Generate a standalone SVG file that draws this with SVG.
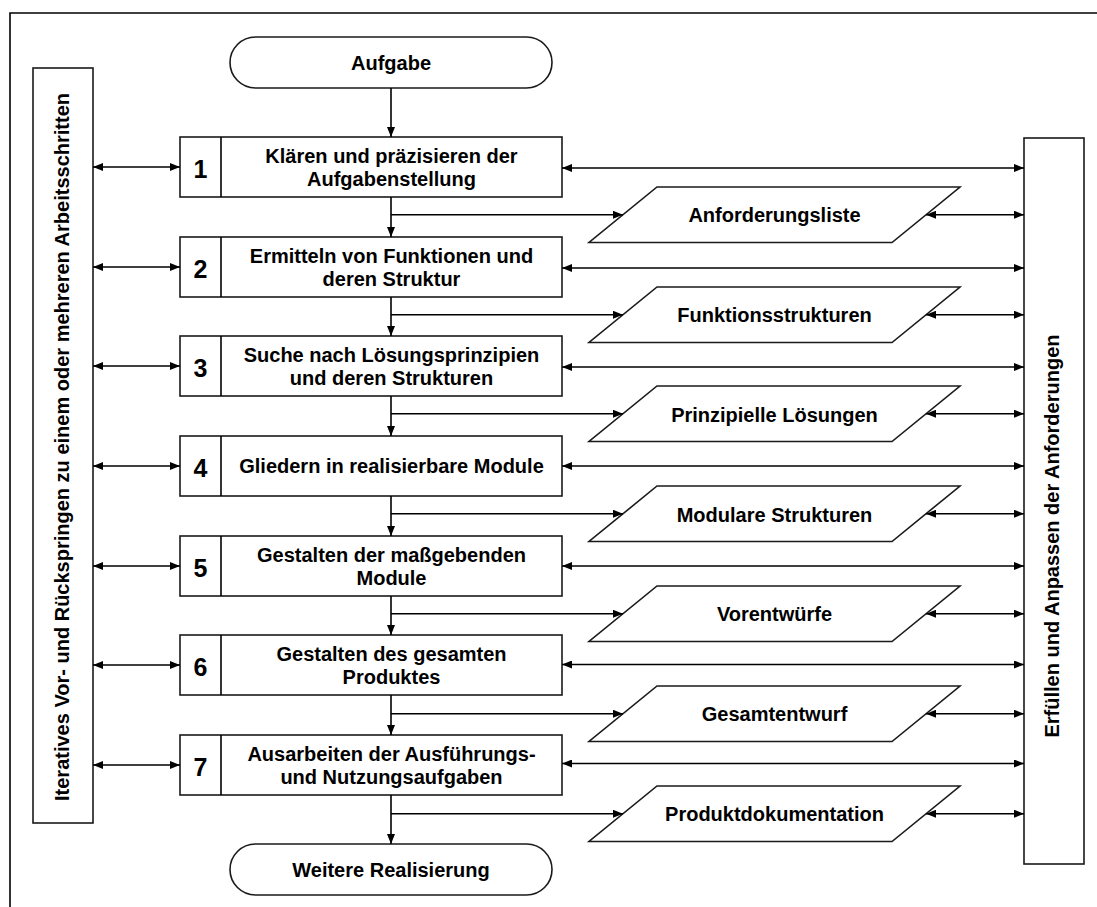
<svg xmlns="http://www.w3.org/2000/svg" width="1097" height="907" viewBox="0 0 1097 907">
<style>
.sh{fill:#fff;stroke:#1a1a1a;stroke-width:1.6}
.ln{fill:none;stroke:#000;stroke-width:1.6}
.t{font-family:"Liberation Sans",Arial,sans-serif;font-weight:bold;font-size:20px;fill:#000;text-anchor:middle}
.n{font-size:25px}
</style>
<defs>
<marker id="ah" markerUnits="userSpaceOnUse" markerWidth="10" markerHeight="8" refX="10" refY="4" orient="auto-start-reverse">
<path d="M0,0 L10,4 L0,8 z" fill="#000"/>
</marker>
</defs>
<rect x="0" y="0" width="1097" height="907" fill="#fff"/>
<path d="M10,907 L10,13 L1097,13" class="ln"/>

<g id="side-left">
<rect class="sh" x="33" y="68" width="60" height="755"/>
<text class="t" transform="translate(69,447) rotate(-90)">Iteratives Vor- und Rückspringen zu einem oder mehreren Arbeitsschritten</text>
</g>
<g id="side-right">
<rect class="sh" x="1024" y="138" width="60" height="726"/>
<text class="t" transform="translate(1059,536) rotate(-90)">Erfüllen und Anpassen der Anforderungen</text>
</g>

<g id="start">
<rect class="sh" x="230" y="37" width="322" height="51" rx="25.5" ry="25.5"/>
<text class="t" x="391" y="70">Aufgabe</text>
</g>
<g id="end">
<rect class="sh" x="230" y="844" width="322" height="51" rx="25.5" ry="25.5"/>
<text class="t" x="391" y="877">Weitere Realisierung</text>
</g>

<g id="step1">
<rect class="sh" x="180" y="137" width="382" height="60"/>
<line class="ln" x1="221" y1="137" x2="221" y2="197"/>
<text class="t n" x="200.5" y="178">1</text>
<text class="t" x="391.5" y="162.5">Klären und präzisieren der</text>
<text class="t" x="391.5" y="185.5">Aufgabenstellung</text>
</g>
<g id="step2">
<rect class="sh" x="180" y="237" width="382" height="60"/>
<line class="ln" x1="221" y1="237" x2="221" y2="297"/>
<text class="t n" x="200.5" y="278">2</text>
<text class="t" x="391.5" y="262.5">Ermitteln von Funktionen und</text>
<text class="t" x="391.5" y="285.5">deren Struktur</text>
</g>
<g id="step3">
<rect class="sh" x="180" y="336" width="382" height="60"/>
<line class="ln" x1="221" y1="336" x2="221" y2="396"/>
<text class="t n" x="200.5" y="377">3</text>
<text class="t" x="391.5" y="361.5">Suche nach Lösungsprinzipien</text>
<text class="t" x="391.5" y="384.5">und deren Strukturen</text>
</g>
<g id="step4">
<rect class="sh" x="180" y="436" width="382" height="60"/>
<line class="ln" x1="221" y1="436" x2="221" y2="496"/>
<text class="t n" x="200.5" y="477">4</text>
<text class="t" x="391.5" y="473">Gliedern in realisierbare Module</text>
</g>
<g id="step5">
<rect class="sh" x="180" y="536" width="382" height="60"/>
<line class="ln" x1="221" y1="536" x2="221" y2="596"/>
<text class="t n" x="200.5" y="577">5</text>
<text class="t" x="391.5" y="561.5">Gestalten der maßgebenden</text>
<text class="t" x="391.5" y="584.5">Module</text>
</g>
<g id="step6">
<rect class="sh" x="180" y="635" width="382" height="60"/>
<line class="ln" x1="221" y1="635" x2="221" y2="695"/>
<text class="t n" x="200.5" y="676">6</text>
<text class="t" x="391.5" y="660.5">Gestalten des gesamten</text>
<text class="t" x="391.5" y="683.5">Produktes</text>
</g>
<g id="step7">
<rect class="sh" x="180" y="735" width="382" height="60"/>
<line class="ln" x1="221" y1="735" x2="221" y2="795"/>
<text class="t n" x="200.5" y="776">7</text>
<text class="t" x="391.5" y="760.5">Ausarbeiten der Ausführungs-</text>
<text class="t" x="391.5" y="783.5">und Nutzungsaufgaben</text>
</g>

<g id="out1">
<polygon class="sh" points="657,187 960,187 892,242.5 589,242.5"/>
<text class="t" x="774.5" y="222">Anforderungsliste</text>
</g>
<g id="out2">
<polygon class="sh" points="657,287 960,287 892,342.5 589,342.5"/>
<text class="t" x="774.5" y="322">Funktionsstrukturen</text>
</g>
<g id="out3">
<polygon class="sh" points="657,386 960,386 892,441.5 589,441.5"/>
<text class="t" x="774.5" y="421.5">Prinzipielle Lösungen</text>
</g>
<g id="out4">
<polygon class="sh" points="657,486 960,486 892,541.5 589,541.5"/>
<text class="t" x="774.5" y="521.5">Modulare Strukturen</text>
</g>
<g id="out5">
<polygon class="sh" points="657,586 960,586 892,641.5 589,641.5"/>
<text class="t" x="774.5" y="621">Vorentwürfe</text>
</g>
<g id="out6">
<polygon class="sh" points="657,686 960,686 892,741.5 589,741.5"/>
<text class="t" x="774.5" y="721">Gesamtentwurf</text>
</g>
<g id="out7">
<polygon class="sh" points="657,786 960,786 892,841.5 589,841.5"/>
<text class="t" x="774.5" y="821">Produktdokumentation</text>
</g>

<g id="connectors" class="ln">
<line x1="391" y1="88" x2="391" y2="137" marker-end="url(#ah)"/>
<line x1="391" y1="197" x2="391" y2="237" marker-end="url(#ah)"/>
<line x1="391" y1="297" x2="391" y2="336" marker-end="url(#ah)"/>
<line x1="391" y1="396" x2="391" y2="436" marker-end="url(#ah)"/>
<line x1="391" y1="496" x2="391" y2="536" marker-end="url(#ah)"/>
<line x1="391" y1="596" x2="391" y2="635" marker-end="url(#ah)"/>
<line x1="391" y1="695" x2="391" y2="735" marker-end="url(#ah)"/>
<line x1="391" y1="795" x2="391" y2="844" marker-end="url(#ah)"/>

<line x1="391" y1="214.75" x2="623" y2="214.75" marker-end="url(#ah)"/>
<line x1="391" y1="314.75" x2="623" y2="314.75" marker-end="url(#ah)"/>
<line x1="391" y1="413.75" x2="623" y2="413.75" marker-end="url(#ah)"/>
<line x1="391" y1="513.75" x2="623" y2="513.75" marker-end="url(#ah)"/>
<line x1="391" y1="613.75" x2="623" y2="613.75" marker-end="url(#ah)"/>
<line x1="391" y1="713.75" x2="623" y2="713.75" marker-end="url(#ah)"/>
<line x1="391" y1="813.75" x2="623" y2="813.75" marker-end="url(#ah)"/>

<line x1="93" y1="167" x2="180" y2="167" marker-start="url(#ah)" marker-end="url(#ah)"/>
<line x1="93" y1="267" x2="180" y2="267" marker-start="url(#ah)" marker-end="url(#ah)"/>
<line x1="93" y1="366" x2="180" y2="366" marker-start="url(#ah)" marker-end="url(#ah)"/>
<line x1="93" y1="466" x2="180" y2="466" marker-start="url(#ah)" marker-end="url(#ah)"/>
<line x1="93" y1="566" x2="180" y2="566" marker-start="url(#ah)" marker-end="url(#ah)"/>
<line x1="93" y1="665" x2="180" y2="665" marker-start="url(#ah)" marker-end="url(#ah)"/>
<line x1="93" y1="765" x2="180" y2="765" marker-start="url(#ah)" marker-end="url(#ah)"/>

<line x1="562" y1="168" x2="1024" y2="168" marker-start="url(#ah)" marker-end="url(#ah)"/>
<line x1="562" y1="268" x2="1024" y2="268" marker-start="url(#ah)" marker-end="url(#ah)"/>
<line x1="562" y1="367" x2="1024" y2="367" marker-start="url(#ah)" marker-end="url(#ah)"/>
<line x1="562" y1="466" x2="1024" y2="466" marker-start="url(#ah)" marker-end="url(#ah)"/>
<line x1="562" y1="566" x2="1024" y2="566" marker-start="url(#ah)" marker-end="url(#ah)"/>
<line x1="562" y1="664.5" x2="1024" y2="664.5" marker-start="url(#ah)" marker-end="url(#ah)"/>
<line x1="562" y1="763.5" x2="1024" y2="763.5" marker-start="url(#ah)" marker-end="url(#ah)"/>

<line x1="926" y1="214.75" x2="1024" y2="214.75" marker-start="url(#ah)" marker-end="url(#ah)"/>
<line x1="926" y1="314.75" x2="1024" y2="314.75" marker-start="url(#ah)" marker-end="url(#ah)"/>
<line x1="926" y1="413.75" x2="1024" y2="413.75" marker-start="url(#ah)" marker-end="url(#ah)"/>
<line x1="926" y1="513.75" x2="1024" y2="513.75" marker-start="url(#ah)" marker-end="url(#ah)"/>
<line x1="926" y1="613.75" x2="1024" y2="613.75" marker-start="url(#ah)" marker-end="url(#ah)"/>
<line x1="926" y1="713.75" x2="1024" y2="713.75" marker-start="url(#ah)" marker-end="url(#ah)"/>
<line x1="926" y1="813.75" x2="1024" y2="813.75" marker-start="url(#ah)" marker-end="url(#ah)"/>
</g>
</svg>
